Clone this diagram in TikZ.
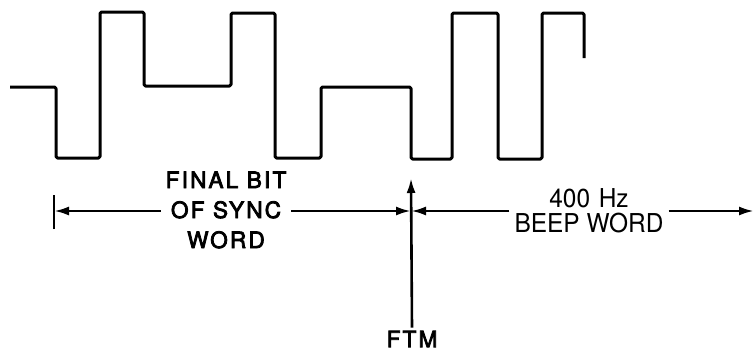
\documentclass[tikz,border=0pt]{standalone}
\usepackage{fontspec}
\setmainfont{TeX Gyre Heros}
\newfontfamily\syncfont{TeX Gyre Heros}[LetterSpace=10, FakeBold=3.5]
\newfontfamily\beepfont{TeX Gyre Heros}[FakeStretch=0.94]
\usetikzlibrary{arrows.meta}
\tikzset{
  wave/.style={line width=3pt, line join=round, rounded corners=1.5pt},
  conn/.style={line width=2.6pt},
  tip/.style={-{Latex[length=15pt,width=9pt]}},
  lbl/.style={align=center, inner xsep=5pt, inner ysep=0pt},
  heavy/.style={font=\syncfont\fontsize{22.5}{30}\selectfont},
  light/.style={font=\beepfont\fontsize{26}{25}\selectfont},
}
\begin{document}
\begin{tikzpicture}[x=1pt,y=-1pt]
\useasboundingbox (0,0) rectangle (755,354);
% waveform
\draw[wave] (10,87) -- (56,87) -- (56,158) -- (100,158) -- (100,12) -- (144,12) -- (144,86)
  -- (231,86) -- (231,13) -- (275,13) -- (275,158) -- (321,158) -- (321,87) -- (411,87)
  -- (411,159) -- (452,159) -- (452,13) -- (498,13) -- (498,159) -- (542,159) -- (542,13)
  -- (584,13) -- (584,58);
% labels
\node[lbl, heavy] (sync) at (226,210) {FINAL BIT\\OF SYNC\\WORD};
\node[lbl, light] (beep) at (589,211) {400\,\,Hz\\BEEP WORD};
\node[lbl, heavy, inner ysep=3pt] (ftm) at (412,339) {FTM};
% coordinates
\coordinate (tickL) at (54,211);
\coordinate (cross) at (411,211);
\coordinate (ftmtop) at (411,178);
\coordinate (endR) at (754,211);
% tick
\draw[conn] ([yshift=-18pt]tickL) -- ([yshift=16pt]tickL);
% arrows
\draw[conn,tip] (sync.west |- tickL) -- (tickL);
\draw[conn,tip] (sync.east |- cross) -- (cross);
\draw[conn,tip] (beep.west |- cross) -- (cross);
\draw[conn,tip] (beep.east |- cross) -- (endR);
\draw[conn,tip] (ftm.north) -- (ftmtop);
\end{tikzpicture}
\end{document}
